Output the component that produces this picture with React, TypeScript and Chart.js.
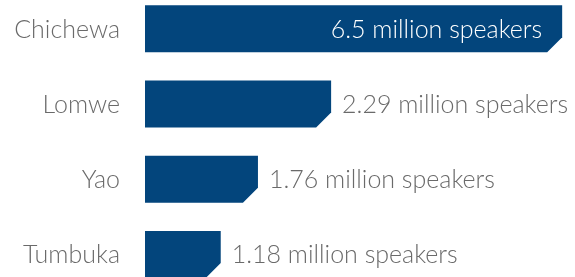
import React, { useEffect, useRef } from "react";
import { Chart, registerables } from "chart.js";

Chart.register(...registerables);

const languages = ["Chichewa", "Lomwe", "Yao", "Tumbuka"];
const speakersMillions = [6.5, 2.29, 1.76, 1.18];
const barValues = [6.5, 2.9, 1.76, 1.18];
const valueLabels = speakersMillions.map((v) => `${v} million speakers`);

const BAR_COLOR = "#03457c";
const TEXT_COLOR = "#6a6a6a";
const FONT = '300 25px Lato, "Open Sans", sans-serif';

const chamferBars = {
  id: "chamferBars",
  afterDatasetsDraw(chart: any) {
    const ctx = chart.ctx;
    const meta = chart.getDatasetMeta(0);
    const area = chart.chartArea;
    ctx.save();
    meta.data.forEach((el: any, i: number) => {
      const { x, y, base, height } = el.getProps(["x", "y", "base", "height"], true);
      const top = y - height / 2;
      const bottom = y + height / 2;
      const c = 15;
      ctx.fillStyle = BAR_COLOR;
      ctx.beginPath();
      ctx.moveTo(base, top);
      ctx.lineTo(x, top);
      ctx.lineTo(x, bottom - c);
      ctx.lineTo(x - c, bottom);
      ctx.lineTo(base, bottom);
      ctx.closePath();
      ctx.fill();

      ctx.font = FONT;
      ctx.textBaseline = "middle";
      // category label
      ctx.fillStyle = TEXT_COLOR;
      ctx.textAlign = "right";
      ctx.fillText(languages[i], base - 25, y + 1);
      // value label
      const txt = valueLabels[i];
      const w = ctx.measureText(txt).width;
      if (x + 11 + w > area.right) {
        ctx.fillStyle = "#ffffff";
        ctx.textAlign = "right";
        ctx.fillText(txt, x - 20, y + 1);
      } else {
        ctx.fillStyle = TEXT_COLOR;
        ctx.textAlign = "left";
        ctx.fillText(txt, x + 11, y + 1);
      }
    });
    ctx.restore();
  },
};

export default function App() {
  const ref = useRef<HTMLCanvasElement>(null);
  useEffect(() => {
    document.body.style.margin = "0";
    const chart = new Chart(ref.current!, {
      type: "bar",
      data: {
        labels: languages,
        datasets: [
          {
            data: barValues,
            backgroundColor: "rgba(0,0,0,0)",
            barThickness: 47,
          },
        ],
      },
      options: {
        indexAxis: "y",
        animation: false,
        responsive: false,
        layout: { padding: { left: 145, right: 0, top: 0, bottom: 0 } },
        plugins: { legend: { display: false }, tooltip: { enabled: false } },
        scales: {
          x: { display: false, min: 0, max: 6.7 },
          y: { display: false },
        },
      },
      plugins: [chamferBars],
    });
    return () => chart.destroy();
  }, []);
  return (
    <div style={{ position: "absolute", left: 0, top: 0, width: 575, height: 277, overflow: "hidden", background: "#fff" }}>
      <canvas ref={ref} width={575} height={301} style={{ position: "absolute", left: 0, top: -9 }} />
    </div>
  );
}
